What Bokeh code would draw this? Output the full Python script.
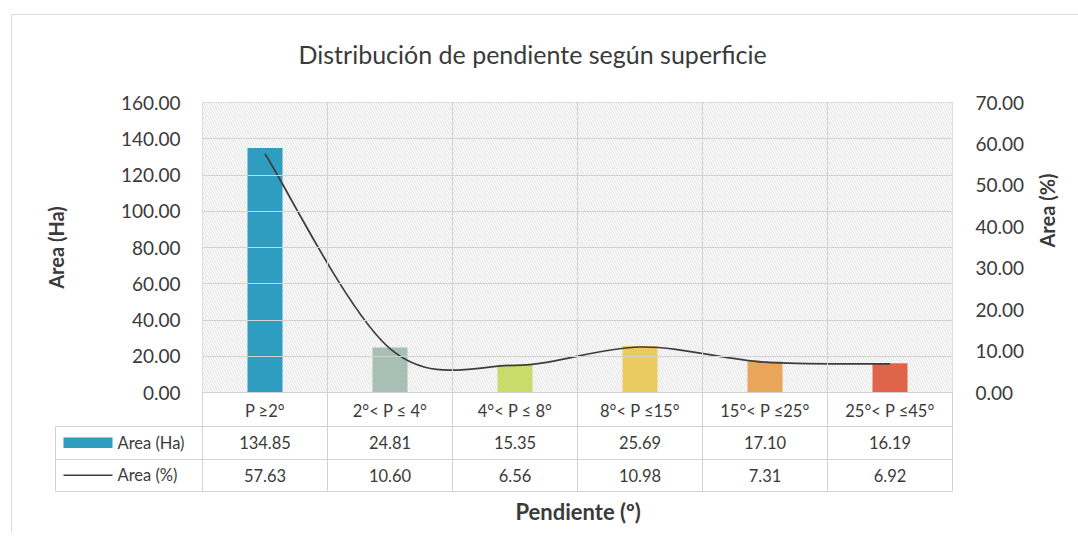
import math
from bokeh.plotting import figure
from bokeh.layouts import column
from bokeh.models import (Range1d, LinearAxis, FixedTicker, PrintfTickFormatter, Title,
                          ColumnDataSource, InlineStyleSheet)
from bokeh.core.properties import value
from bokeh.embed import file_html
from bokeh.resources import INLINE

# ---------------- data ----------------
categories = ["P \u22652\u00b0", "2\u00b0< P \u2264 4\u00b0", "4\u00b0< P \u2264 8\u00b0",
              "8\u00b0< P \u226415\u00b0", "15\u00b0< P \u226425\u00b0", "25\u00b0< P \u226445\u00b0"]
area_ha = [134.85, 24.81, 15.35, 25.69, 17.10, 16.19]
area_pct = [57.63, 10.60, 6.56, 10.98, 7.31, 6.92]
bar_colors = ["#2e9dbf", "#a8bfb6", "#c9dc6b", "#eacb5f", "#e9a65a", "#e0644a"]
ha_ticks = [0, 20, 40, 60, 80, 100, 120, 140, 160]
pct_ticks = [0, 10, 20, 30, 40, 50, 60, 70]
title_text = "Distribución de pendiente según superficie"
series_names = ["Area (Ha)", "Area (%)"]
x_title = "Pendiente (º)"

# ---------------- style ----------------
FONT = "Lato"
TXT = "#3a3a3a"
GRID = "#d2d2d2"
LINE_COLOR = "#3d3d3d"
W = 1078

n = len(categories)
centers = [i + 0.5 for i in range(n)]
bounds = list(range(n + 1))

# ================= main chart =================
p = figure(width=W, height=426,
           x_range=Range1d(0, n), y_range=Range1d(ha_ticks[0], ha_ticks[-1]),
           output_backend="svg", toolbar_location=None,
           min_border_left=202, min_border_right=W - 952, min_border_top=102, min_border_bottom=34,
           background_fill_color="white", border_fill_color="white",
           outline_line_color=GRID,
           title=Title(text=title_text, align="left", offset=96, standoff=67,
                       text_font=FONT, text_font_size="25px", text_font_style="normal",
                       text_color=TXT))
p.extra_y_ranges = {"pct": Range1d(pct_ticks[0], pct_ticks[-1])}

# hatched plot-area background
p.quad(left=[0], right=[n], bottom=[ha_ticks[0]], top=[ha_ticks[-1]],
       fill_color="white", line_color=None,
       hatch_pattern="left_diagonal_line", hatch_color="#dedede", hatch_scale=5, hatch_weight=1,
       level="underlay")

# grid
p.xgrid.ticker = FixedTicker(ticks=bounds)
p.ygrid.ticker = FixedTicker(ticks=ha_ticks)
for g in (p.xgrid[0], p.ygrid[0]):
    g.grid_line_color = GRID
    g.level = "glyph"

# bars
src = ColumnDataSource(dict(x=centers, top=area_ha, color=bar_colors))
bars = p.vbar(x="x", top="top", bottom=0, width=0.28, fill_color="color", line_color=None, source=src)

# smoothed line (Bezier segments through the data points)
pts = list(zip(centers, area_pct))
bx0, by0, bx1, by1, cx0, cy0, cx1, cy1 = [], [], [], [], [], [], [], []
for i in range(n - 1):
    pp = pts[max(i - 1, 0)]
    a = pts[i]
    b = pts[i + 1]
    nn = pts[min(i + 2, n - 1)]
    bx0.append(a[0]); by0.append(a[1]); bx1.append(b[0]); by1.append(b[1])
    cx0.append(a[0] + (b[0] - pp[0]) / 6.0); cy0.append(a[1] + (b[1] - pp[1]) / 6.0)
    cx1.append(b[0] - (nn[0] - a[0]) / 6.0); cy1.append(b[1] - (nn[1] - a[1]) / 6.0)
curve = p.bezier(x0=bx0, y0=by0, x1=bx1, y1=by1, cx0=cx0, cy0=cy0, cx1=cx1, cy1=cy1,
                 line_color=LINE_COLOR, line_width=1.7, y_range_name="pct")

# left axis
ya = p.yaxis[0]
ya.ticker = FixedTicker(ticks=ha_ticks)
ya.formatter = PrintfTickFormatter(format="%.2f")
ya.axis_label = series_names[0]
ya.axis_label_standoff = 50

# right axis
yr = LinearAxis(y_range_name="pct", ticker=FixedTicker(ticks=pct_ticks),
                formatter=PrintfTickFormatter(format="%.2f"), axis_label=series_names[1])
yr.axis_label_standoff = 20
if "axis_label_orientation" in yr.properties():
    yr.axis_label_orientation = math.pi / 2
p.add_layout(yr, "right")

for ax, standoff in ((ya, 22), (yr, 23)):
    ax.axis_line_color = None
    ax.major_tick_line_color = None
    ax.minor_tick_line_color = None
    ax.major_tick_out = 0
    ax.major_tick_in = 0
    ax.major_label_standoff = standoff
    ax.major_label_text_font = FONT
    ax.major_label_text_font_size = "19px"
    ax.major_label_text_color = TXT
    ax.axis_label_text_font = FONT
    ax.axis_label_text_font_size = "20px"
    ax.axis_label_text_font_style = "bold"
    ax.axis_label_text_color = TXT

# category row (x axis)
xa = p.xaxis[0]
xa.ticker = FixedTicker(ticks=centers, minor_ticks=bounds)
xa.major_label_overrides = {c: lab for c, lab in zip(centers, categories)}
xa.axis_line_color = GRID
xa.minor_tick_line_color = GRID
xa.minor_tick_out = 34
xa.minor_tick_in = 0
xa.major_tick_line_color = None
xa.major_tick_out = 0
xa.major_tick_in = 0
xa.major_label_standoff = -26
xa.major_label_text_font = FONT
xa.major_label_text_font_size = "16.5px"
xa.major_label_text_color = TXT

# ================= data table below =================
legend_w = 147.0 / 125.0   # width of the legend column, in category widths
t = figure(width=W, height=107,
           x_range=Range1d(-legend_w, n), y_range=Range1d(0, 2),
           output_backend="svg", toolbar_location=None,
           min_border_left=55, min_border_right=W - 952, min_border_top=0, min_border_bottom=42,
           background_fill_color="white", border_fill_color="white",
           outline_line_color=GRID)
for fig in (p, t):
    if "frame_align" in fig.properties():
        fig.frame_align = False
t.xaxis.visible = False
t.yaxis.visible = False
t.xgrid.ticker = FixedTicker(ticks=bounds)
t.ygrid.ticker = FixedTicker(ticks=[1])
t.grid.grid_line_color = GRID

row_y = [1.5, 0.5]
t.text(x=centers, y=[row_y[0]] * n, text=["%.2f" % v for v in area_ha],
       text_align="center", text_baseline="middle",
       text_font=value(FONT), text_font_size="16.5px", text_color=TXT)
t.text(x=centers, y=[row_y[1]] * n, text=["%.2f" % v for v in area_pct],
       text_align="center", text_baseline="middle",
       text_font=value(FONT), text_font_size="16.5px", text_color=TXT)

# legend keys in the first column
key_l = -legend_w + 8.0 / 125.0
key_r = key_l + 49.0 / 125.0
lab_x = key_r + 5.0 / 125.0
t.quad(left=[key_l], right=[key_r], bottom=[row_y[0] - 0.16], top=[row_y[0] + 0.16],
       fill_color=bar_colors[0], line_color=None)
t.segment(x0=[key_l], y0=[row_y[1]], x1=[key_r], y1=[row_y[1]], line_color=LINE_COLOR, line_width=1.7)
t.text(x=[lab_x, lab_x], y=row_y, text=series_names,
       text_align="left", text_baseline="middle",
       text_font=value(FONT), text_font_size="16.5px", text_color=TXT)

t.add_layout(Title(text=x_title, align="left", offset=460, standoff=8,
                   text_font=FONT, text_font_size="22px", text_font_style="bold",
                   text_color=TXT), "below")

# faint chart-area border (top and left edges visible in the reference)
frame_css = InlineStyleSheet(css="""
:host { position: relative; }
:host::after {
  content: ""; position: absolute; left: 11px; top: 14px; right: 0; bottom: 0;
  border-top: 1px solid #dcdcdc; border-left: 1px solid #dcdcdc;
  pointer-events: none; z-index: 10;
}
""")
layout = column(p, t, spacing=0, stylesheets=[frame_css])
open("out.html", "w").write(file_html(layout, INLINE))
